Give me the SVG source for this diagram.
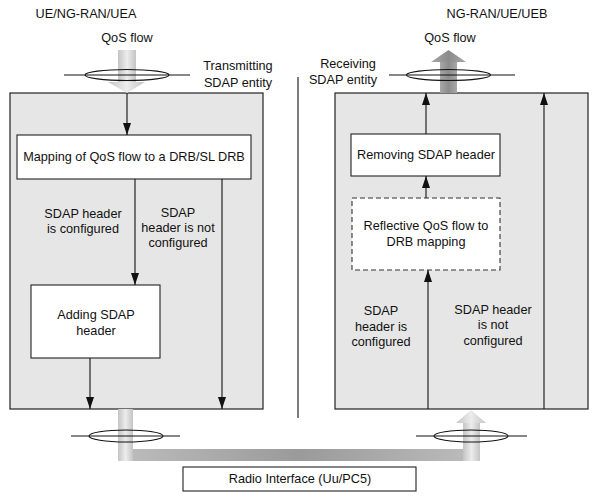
<svg xmlns="http://www.w3.org/2000/svg" width="598" height="499" viewBox="0 0 598 499">
<defs>
<style>
text{font-family:"Liberation Sans",Arial,sans-serif;font-size:12.7px;fill:#111;text-anchor:middle}
.ent{fill:#e6e6e6;stroke:#222;stroke-width:1.2}
.box{fill:#fff;stroke:#222;stroke-width:1.1}
.dash{fill:#fff;stroke:#333;stroke-width:1.1;stroke-dasharray:5,3}
.ln{stroke:#111;stroke-width:1.1;fill:none}
.arr{stroke:#111;stroke-width:1.1;fill:none;marker-end:url(#ah)}
.ell{fill:none;stroke:#111;stroke-width:1.1}
</style>
<marker id="ah" viewBox="0 0 12 8" refX="12" refY="4" markerWidth="12" markerHeight="8" markerUnits="userSpaceOnUse" orient="auto">
<path d="M0,0 L12,4 L0,8 z" fill="#111"/>
</marker>
<linearGradient id="gv" x1="0" y1="0" x2="1" y2="0">
<stop offset="0" stop-color="#c4c4c4"/><stop offset="0.5" stop-color="#ececec"/><stop offset="1" stop-color="#c4c4c4"/>
</linearGradient>
<linearGradient id="gd" x1="0" y1="0" x2="1" y2="0">
<stop offset="0" stop-color="#a8a8a8"/><stop offset="0.5" stop-color="#8c8c8c"/><stop offset="1" stop-color="#a8a8a8"/>
</linearGradient>
<linearGradient id="gh" x1="0" y1="0" x2="1" y2="0">
<stop offset="0" stop-color="#bdbdbd"/><stop offset="0.5" stop-color="#9a9a9a"/><stop offset="1" stop-color="#bdbdbd"/>
</linearGradient>
</defs>

<text x="86" y="18">UE/NG-RAN/UEA</text>
<text x="497" y="18">NG-RAN/UE/UEB</text>
<line class="ln" x1="298" y1="77" x2="298" y2="418"/>

<g id="left-entity">
<rect class="ent" x="10" y="93" width="253" height="316"/>
</g>
<g id="right-entity">
<rect class="ent" x="335" y="93" width="253" height="316"/>
</g>

<g id="flows">
<rect x="118" y="50" width="18" height="32" fill="url(#gv)"/>
<polygon points="108,82 145,82 127,93" fill="url(#gv)"/>
<rect x="440" y="62" width="17" height="31" fill="url(#gd)"/>
<polygon points="431,62 466,62 448.5,50" fill="url(#gd)"/>
<rect x="118" y="449" width="362" height="12" fill="url(#gh)"/>
<rect x="118" y="409" width="15" height="52" fill="url(#gv)"/>
<rect x="463" y="423" width="17" height="38" fill="url(#gv)"/>
<polygon points="456,423 486,423 471,410" fill="url(#gv)"/>
</g>

<g id="sap-top-left">
<line class="ln" x1="64" y1="75" x2="190" y2="75"/>
<ellipse class="ell" cx="127" cy="75" rx="42" ry="5.5" />
<text x="127" y="42">QoS flow</text>
<text x="238" y="70">Transmitting</text>
<text x="238" y="87">SDAP  entity</text>
</g>
<g id="sap-top-right">
<line class="ln" x1="389" y1="75" x2="515" y2="75"/>
<ellipse class="ell" cx="448.5" cy="75" rx="42" ry="5.5"/>
<text x="450" y="42">QoS flow</text>
<text x="348" y="68">Receiving</text>
<text x="343" y="84">SDAP  entity</text>
</g>
<g id="sap-bottom-left">
<line class="ln" x1="71" y1="436" x2="180" y2="436"/>
<ellipse class="ell" cx="126" cy="436" rx="37" ry="6"/>
</g>
<g id="sap-bottom-right">
<line class="ln" x1="416" y1="436" x2="527" y2="436"/>
<ellipse class="ell" cx="471" cy="436" rx="37" ry="6"/>
</g>

<g id="mapping">
<rect class="box" x="17" y="135" width="234" height="44"/>
<text x="134" y="161">Mapping of QoS flow to a DRB/SL DRB</text>
</g>
<g id="adding">
<rect class="box" x="31" y="285" width="129" height="73"/>
<text x="96" y="319">Adding SDAP</text>
<text x="96" y="335">header</text>
</g>
<g id="removing">
<rect class="box" x="351" y="134" width="149" height="42"/>
<text x="426" y="159">Removing SDAP header</text>
</g>
<g id="reflective">
<rect class="dash" x="352" y="198" width="148" height="72"/>
<text x="426" y="230">Reflective QoS flow to</text>
<text x="426" y="246">DRB mapping</text>
</g>
<g id="radio">
<rect class="box" x="183" y="467" width="233" height="24"/>
<text x="300" y="483">Radio Interface (Uu/PC5)</text>
</g>

<g id="connectors">
<line class="arr" x1="127" y1="93" x2="127" y2="135"/>
<line class="arr" x1="135" y1="179" x2="135" y2="285"/>
<line class="arr" x1="222" y1="179" x2="222" y2="409"/>
<line class="arr" x1="90" y1="358" x2="90" y2="409"/>
<line class="arr" x1="428" y1="409" x2="428" y2="270"/>
<line class="arr" x1="426" y1="198" x2="426" y2="176"/>
<line class="arr" x1="426" y1="134" x2="426" y2="93"/>
<line class="arr" x1="544" y1="409" x2="544" y2="93"/>
</g>

<g id="labels">
<text x="83" y="218">SDAP header</text>
<text x="83" y="233">is configured</text>
<text x="178" y="217">SDAP</text>
<text x="178" y="232">header is not</text>
<text x="178" y="247">configured</text>
<text x="381" y="315">SDAP</text>
<text x="381" y="331">header is</text>
<text x="381" y="346">configured</text>
<text x="493" y="314">SDAP header</text>
<text x="493" y="329">is not</text>
<text x="493" y="345">configured</text>
</g>
</svg>
